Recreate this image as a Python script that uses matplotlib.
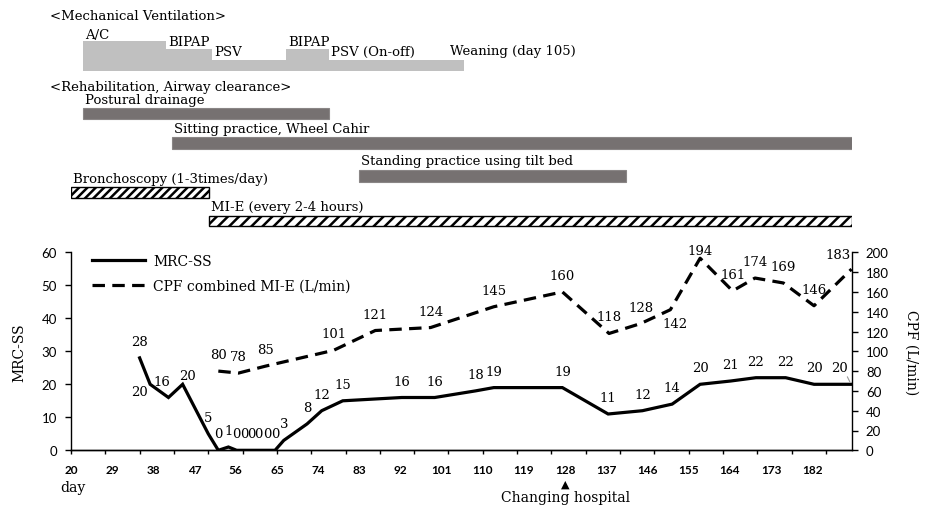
import matplotlib
matplotlib.use('Agg')
import matplotlib.pyplot as plt
from matplotlib.lines import Line2D

plt.rcParams['hatch.linewidth'] = 1.8

# ---------------- data ----------------
mrc_days = [35, 37.3, 41.3, 44.4, 50, 52.2, 54.4, 56.2, 57.8, 59.4, 61.0, 62.8, 64.6, 66.5,
            71.6, 74.8, 79.4, 92.3, 99.5, 108.4, 112.4, 127.4, 137.4, 144.9, 151.4,
            157.5, 164.2, 169.7, 176.2, 182.4, 190.5]
mrc_vals = [28, 20, 16, 20, 5, 0, 1, 0, 0, 0, 0, 0, 0, 3,
            8, 12, 15, 16, 16, 18, 19, 19, 11, 12, 14,
            20, 21, 22, 22, 20, 20]
cpf_days = [52.2, 56.6, 62.5, 77.4, 86.5, 98.6, 112.4, 127.4, 137.6, 144.5, 151.0,
            157.5, 164.6, 169.5, 175.7, 182.4, 190.6]
cpf_vals = [80, 78, 85, 101, 121, 124, 145, 160, 118, 128, 142,
            194, 161, 174, 169, 146, 183]

xtick_days = list(range(20, 183, 9))
xtick_labels = [str(d) for d in xtick_days]
mark_tick_days = [20 + 7.5 * k for k in range(23)]

# mechanical ventilation modes (start day, level, label)
mv_starts = [22.6, 40.8, 50.8, 67.0, 76.3]
mv_end = 105.8
mv_levels = [3, 2, 1, 2, 1]
mv_labels = ["A/C", "BIPAP", "PSV", "BIPAP", "PSV (On-off)"]
weaning_label = "Weaning (day 105)"

# rehabilitation bars: (label, start, end, style)
rehab = [
    ("Postural drainage", 22.6, 76.3, "solid"),
    ("Sitting practice, Wheel Cahir", 42.1, 190.6, "solid"),
    ("Standing practice using tilt bed", 83.0, 141.3, "solid"),
    ("Bronchoscopy (1-3times/day)", 20.0, 50.1, "hatch_dense"),
    ("MI-E (every 2-4 hours)", 50.1, 190.6, "hatch"),
]

# ---------------- layout ----------------
W, H = 926, 506
fig = plt.figure(figsize=(W / 100, H / 100), dpi=100)
L, R = 71, 852
ax_top_px, ax_bot_px = 253.3, 451.3
XMIN, XMAX = 20, 190.7
px_per_day = (R - L) / (XMAX - XMIN)

serif = "DejaVu Serif"
sans = "Lato"

ax = fig.add_axes([L / W, 1 - ax_bot_px / H, (R - L) / W, (ax_bot_px - ax_top_px) / H])
ax2 = ax.twinx()
ax.set_xlim(XMIN, XMAX)
ax.set_ylim(0, 60)
ax2.set_ylim(0, 200)

ax.plot(mrc_days, mrc_vals, color='black', lw=2.3, solid_joinstyle='miter', zorder=3)
ax2.plot(cpf_days, cpf_vals, color='black', lw=2.3, dashes=(3.9, 2.3), zorder=3)

# data labels
mrc_off = {1: (-11, -7), 2: (-7, 15.5), 3: (5, 9), 30: (-12, 17)}
for i, (d, v) in enumerate(zip(mrc_days, mrc_vals)):
    dx, dy = mrc_off.get(i, (0, 16.5))
    ax.annotate(str(v), (d, v), xytext=(dx, dy), textcoords='offset pixels',
                ha='center', va='center', fontsize=9.5, family=serif)
cpf_off = {10: (5, -14), 11: (0, 8), 16: (-13, 15)}
for i, (d, v) in enumerate(zip(cpf_days, cpf_vals)):
    dx, dy = cpf_off.get(i, (0, 16.5))
    ax2.annotate(str(v), (d, v), xytext=(dx, dy), textcoords='offset pixels',
                 ha='center', va='center', fontsize=9.5, family=serif)

# leader line for last MRC label
ax.annotate("", (mrc_days[-1], mrc_vals[-1]), xytext=(-5, 10), textcoords='offset pixels',
            arrowprops=dict(arrowstyle='-', color='#999999', lw=0.8))

# axes styling
for a in (ax, ax2):
    a.spines['top'].set_visible(False)
ax.spines['right'].set_visible(False)
ax2.spines['left'].set_visible(False)
for a in (ax, ax2):
    for s in a.spines.values():
        s.set_linewidth(1.0)

ax.set_yticks(range(0, 61, 10))
ax2.set_yticks(range(0, 201, 20))
ax.tick_params(axis='y', direction='out', length=4, width=1, pad=6, labelsize=9.5)
ax2.tick_params(axis='y', direction='out', length=4, width=1, pad=6, labelsize=9.5)
for lab in ax.get_yticklabels() + ax2.get_yticklabels():
    lab.set_family(sans)

ax.xaxis.remove_overlapping_locs = False
ax.set_xticks(mark_tick_days, minor=True)
ax.tick_params(axis='x', which='minor', direction='out', length=3, width=1)
ax.set_xticks(xtick_days)
ax.set_xticklabels(xtick_labels, family=sans, fontsize=8.5, fontweight='bold')
ax.tick_params(axis='x', which='major', length=0, pad=10)

ax.set_ylabel("MRC-SS", family=serif, fontsize=10, va='center')
ax.yaxis.set_label_coords(-(L - 19) / (R - L), 0.5)
ax2.set_ylabel("CPF (L/min)", family=serif, fontsize=10, rotation=270, va='center')
ax2.yaxis.set_label_coords((911 - L) / (R - L), 0.5)

# legend
h1 = Line2D([], [], color='black', lw=2.3)
h2 = Line2D([], [], color='black', lw=2.3, dashes=(3.9, 2.3))
ax.legend([h1, h2], ["MRC-SS", "CPF combined MI-E (L/min)"], loc='upper left',
          bbox_to_anchor=((92 - L) / (R - L), 1 - 2 / (ax_bot_px - ax_top_px)),
          frameon=False, handlelength=3.8, handletextpad=0.6, labelspacing=0.75,
          borderpad=0, borderaxespad=0, prop={'family': serif, 'size': 10})

# bottom annotations
fig.text(73 / W, 1 - 488 / H, "day", family=serif, fontsize=10, ha='center', va='center')
ax.annotate("\u25B2", (128, 0), xytext=(0, -485 + ax_bot_px), textcoords='offset pixels',
            ha='center', va='center', fontsize=8, family='DejaVu Sans', annotation_clip=False)
ax.annotate("Changing hospital", (128, 0), xytext=(0, -498 + ax_bot_px), textcoords='offset pixels',
            ha='center', va='center', fontsize=10, family=serif, annotation_clip=False)

# ---------------- timeline panel ----------------
TOP_H = 240
axt = fig.add_axes([L / W, 1 - TOP_H / H, (R - L) / W, TOP_H / H])
axt.set_xlim(XMIN, XMAX)
axt.set_ylim(TOP_H, 0)
axt.axis('off')

def day_of(px):
    return XMIN + (px - L) / px_per_day

level_top = {3: 42.3, 2: 50.0, 1: 60.7}
mv_bottom = 71.5
edges = mv_starts + [mv_end]
tops = [level_top[l] for l in mv_levels] + [level_top[mv_levels[-1]]]
axt.fill_between(edges, tops, mv_bottom, step='post', color='#c0c0c0', lw=0)

tfont = dict(family=serif, fontsize=9.5, va='center', ha='left')
axt.text(day_of(50), 17, "<Mechanical Ventilation>", **tfont)
label_y = {3: 35, 2: 42, 1: 52}
for s, lev, lab in zip(mv_starts, mv_levels, mv_labels):
    axt.text(s + 0.5, label_y[lev], lab, **tfont)
axt.text(mv_end - 3.0, 52, weaning_label, **tfont)

axt.text(day_of(50), 87, "<Rehabilitation, Airway clearance>", **tfont)

bar_rows = [(101, 108.7, 119.5), (130, 138.3, 150), (162, 170.5, 182.5),
            (180, 188.3, 199), (208, 216.5, 227)]
for (lab, s, e, style), (ty, y0, y1) in zip(rehab, bar_rows):
    if style == 'solid':
        axt.bar(s, y1 - y0, width=e - s, bottom=y0, align='edge', color='#767171',
                edgecolor='#8a8686', lw=0.8)
    else:
        axt.bar(s, y1 - y0, width=e - s, bottom=y0, align='edge', facecolor='white',
                edgecolor='black', lw=1.0, hatch='////' if style == 'hatch_dense' else '///')
    axt.text(s + 0.4, ty, lab, **tfont)

fig.savefig("out.png", dpi=100)
